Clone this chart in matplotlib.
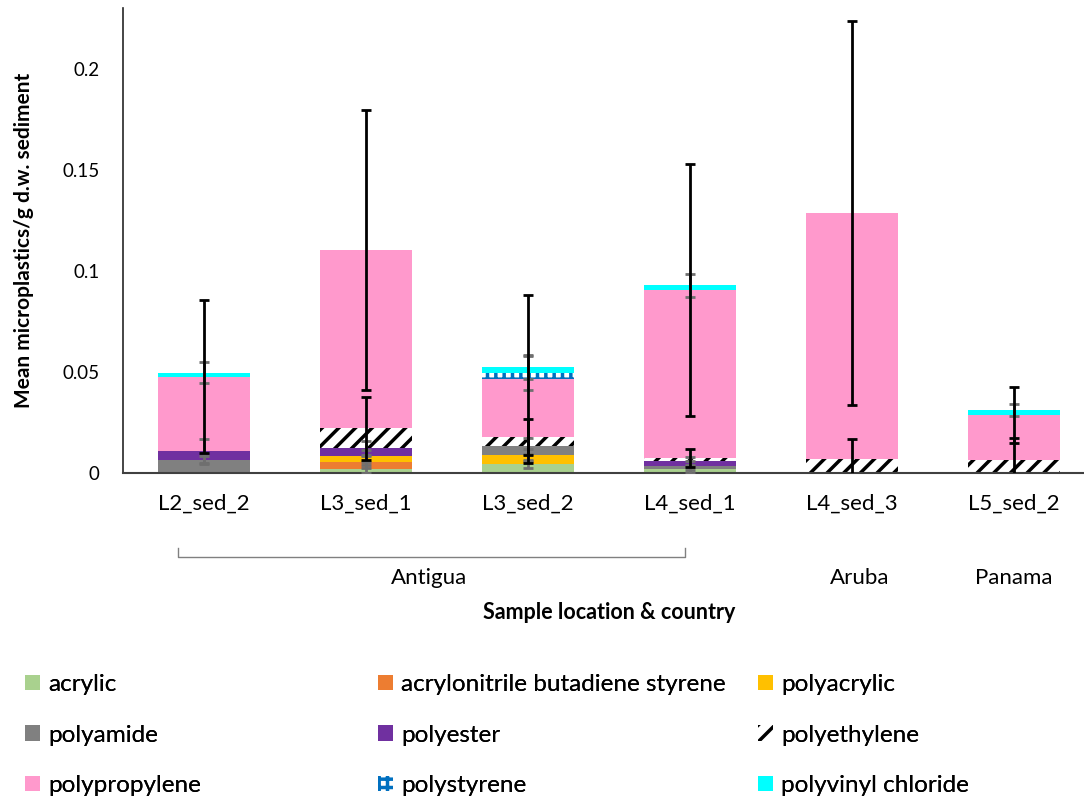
import numpy as np
import matplotlib.pyplot as plt

plt.rcParams['font.family'] = ['Lato', 'DejaVu Sans']
plt.rcParams['hatch.linewidth'] = 2.5

samples = ['L2_sed_2', 'L3_sed_1', 'L3_sed_2', 'L4_sed_1', 'L4_sed_3', 'L5_sed_2']
countries = ['Antigua', 'Aruba', 'Panama']

# mean microplastics per g dry weight sediment, by polymer
acrylic = [0, 0.002, 0.0045, 0.002, 0, 0]
abs_ = [0, 0.0033, 0, 0, 0, 0]
polyacrylic = [0, 0.0033, 0.0045, 0, 0, 0]
polyamide = [0.0064, 0, 0.0045, 0.0017, 0, 0]
polyester = [0.0045, 0.0036, 0, 0.002, 0, 0]
polyethylene = [0, 0.0099, 0.0043, 0.0018, 0.0069, 0.0064]
polypropylene = [0.0368, 0.0884, 0.0287, 0.0832, 0.1218, 0.0223]
polystyrene = [0, 0, 0.003, 0, 0, 0]
pvc = [0.002, 0, 0.0028, 0.0021, 0, 0.0025]

# error bars (same units)
err_acrylic = [0, 0.002, 0.002, 0.002, 0, 0]
err_abs = [0, 0.003, 0, 0, 0, 0]
err_polyacrylic = [0, 0.003, 0.003, 0, 0, 0]
err_polyamide = [0.002, 0, 0.004, 0.002, 0, 0]
err_polyester = [0.0059, 0.0035, 0, 0.002, 0, 0]
err_polyethylene = [0, 0.0157, 0.0089, 0.0044, 0.0101, 0.0108]
err_polypropylene = [0.0379, 0.0692, 0.0414, 0.0623, 0.095, 0.0137]
err_polystyrene = [0, 0, 0.0086, 0, 0, 0]
err_pvc = [0.005, 0, 0.006, 0.0057, 0, 0.003]

series = [
    ('acrylic', acrylic, err_acrylic, '#A9D18E', None, 'gray'),
    ('acrylonitrile butadiene styrene', abs_, err_abs, '#ED7D31', None, 'gray'),
    ('polyacrylic', polyacrylic, err_polyacrylic, '#FFC000', None, 'gray'),
    ('polyamide', polyamide, err_polyamide, '#808080', None, 'gray'),
    ('polyester', polyester, err_polyester, '#7030A0', None, 'gray'),
    ('polyethylene', polyethylene, err_polyethylene, 'black', '//', 'black'),
    ('polypropylene', polypropylene, err_polypropylene, '#FF99CC', None, 'black'),
    ('polystyrene', polystyrene, err_polystyrene, '#0070C0', '++', 'gray'),
    ('polyvinyl chloride', pvc, err_pvc, '#00FFFF', None, 'gray'),
]

fig = plt.figure(figsize=(10.84, 7.99), dpi=100)
ax = fig.add_axes([123 / 1084, 1 - 473 / 799, 972 / 1084, 465 / 799])

x = np.arange(len(samples))
bottom = np.zeros(len(samples))
handles = {}
tops = []
for name, vals, errs, color, hatch, ecol in series:
    vals = np.array(vals)
    if hatch:
        # patterned fill: colour goes to the hatch lines on a white face
        h = ax.bar(x, vals, 0.57, bottom=bottom, facecolor='white', edgecolor=color,
                   hatch=hatch, linewidth=0)
    else:
        h = ax.bar(x, vals, 0.57, bottom=bottom, color=color, linewidth=0)
    handles[name] = h
    bottom = bottom + vals
    tops.append((bottom.copy(), vals, np.array(errs), ecol))

# gray error bars first, black ones on top
for ecol in ['gray', 'black']:
    for top, vals, errs, c in tops:
        if c != ecol:
            continue
        m = vals > 0
        ax.errorbar(x[m], top[m], yerr=errs[m], fmt='none',
                    ecolor='#6f6f6f' if c == 'gray' else 'black',
                    elinewidth=2.0, capsize=3.5, capthick=2.0, zorder=3)

ax.set_xlim(-0.5, 5.5)
ax.set_ylim(0, 0.23)
ax.set_yticks([0, 0.05, 0.1, 0.15, 0.2])
ax.set_yticklabels(['0', '0.05', '0.1', '0.15', '0.2'])
ax.set_xticks(x)
ax.set_xticklabels(samples)
ax.tick_params(axis='both', length=0)
ax.tick_params(axis='y', pad=17, labelsize=13.5)
ax.tick_params(axis='x', pad=15, labelsize=16)
ax.spines['top'].set_visible(False)
ax.spines['right'].set_visible(False)
ax.spines['left'].set_color('#262626')
ax.spines['bottom'].set_color('#404040')
ax.spines['left'].set_linewidth(1.2)
ax.spines['bottom'].set_linewidth(1.5)

ax.set_ylabel('Mean microplastics/g d.w. sediment', fontsize=15, fontweight='bold',
              labelpad=20)

# country grouping under the sample labels
tr = ax.get_xaxis_transform()
ax.plot([-0.16, -0.16, 2.97, 2.97], [-0.162, -0.181, -0.181, -0.162], color='#808080',
        lw=1, transform=tr, clip_on=False)
for lbl, xc in zip(countries, [1.39, 4.05, 5.0]):
    ax.text(xc, -0.226, lbl, transform=tr, ha='center', va='center', fontsize=16)
ax.text(0.5, -0.301, 'Sample location & country', transform=ax.transAxes,
        ha='center', va='center', fontsize=15.5, fontweight='bold')

# legend laid out in three columns
cols = [['acrylic', 'polyamide', 'polypropylene'],
        ['acrylonitrile butadiene styrene', 'polyester', 'polystyrene'],
        ['polyacrylic', 'polyethylene', 'polyvinyl chloride']]
for names, xpos in zip(cols, [25 / 1084, 378 / 1084, 758 / 1084]):
    leg = fig.legend([handles[n] for n in names], names, loc='upper left',
                     bbox_to_anchor=(xpos, 1 - 674 / 799), frameon=False,
                     fontsize=17.5, handlelength=0.6, handleheight=0.6,
                     handletextpad=0.35, labelspacing=1.22, borderpad=0, borderaxespad=0)
    fig.add_artist(leg)

fig.savefig('out.png', dpi=100)
